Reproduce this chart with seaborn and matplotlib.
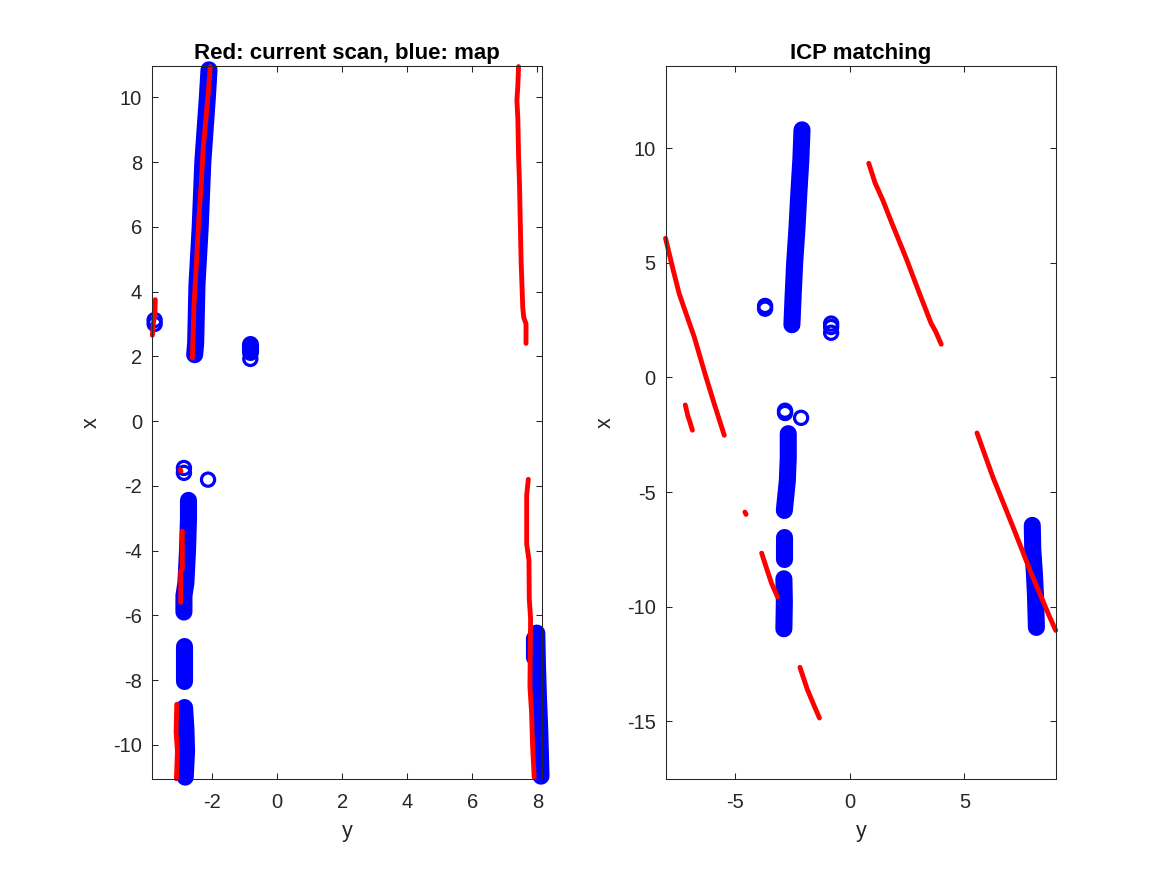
import numpy as np
import pandas as pd
import matplotlib
matplotlib.use('Agg')
import matplotlib.pyplot as plt
import seaborn as sns

# puntos, pares (y, x): horizontal "y", vertical "x"

# panel izquierdo: mapa (azul) y scan actual (rojo)
left_map_lines = [
    [(-2.53, 2.05), (-2.50, 2.4), (-2.46, 4.2), (-2.36, 6.0), (-2.28, 8.0), (-2.14, 10.0), (-2.09, 10.85)],
    [(-0.84, 2.37), (-0.84, 2.13)],
    [(-2.72, -2.45), (-2.72, -3.0), (-2.75, -4.0), (-2.80, -5.0), (-2.86, -5.4), (-2.86, -5.9)],
    [(-2.86, -6.95), (-2.86, -8.03)],
    [(-2.84, -8.85), (-2.80, -9.5), (-2.78, -10.2), (-2.82, -11.0)],
    [(7.98, -6.55), (8.00, -7.5), (8.03, -8.5), (8.07, -9.5), (8.11, -10.97)],
    [(7.88, -6.7), (7.88, -7.3)],
]
left_map_rings = [(-3.76, 3.0), (-3.76, 3.12), (-0.82, 1.92),
                  (-2.86, -1.45), (-2.86, -1.6), (-2.12, -1.81)]
left_scan_lines = [
    [(-2.60, 1.95), (-2.55, 3.6), (-2.48, 4.8), (-2.40, 6.3), (-2.33, 7.3), (-2.27, 8.4),
     (-2.17, 9.5), (-2.10, 10.3), (-2.05, 10.95)],
    [(-3.83, 2.65), (-3.80, 3.0), (-3.75, 3.4), (-3.74, 3.75)],
    [(-2.97, -1.50), (-2.95, -1.56)],
    [(-2.91, -3.4), (-2.91, -4.55), (-2.96, -4.65), (-2.96, -5.6)],
    [(-3.08, -8.75), (-3.10, -9.6), (-3.06, -10.2), (-3.09, -11.05)],
    [(7.42, 10.95), (7.40, 10.4), (7.37, 9.9), (7.40, 9.3), (7.42, 8.2), (7.45, 7.3), (7.47, 6.3),
     (7.50, 4.9), (7.55, 3.5), (7.58, 3.2), (7.65, 3.0), (7.65, 2.4)],
    [(7.72, -1.8), (7.67, -2.3), (7.67, -3.8), (7.74, -4.3), (7.75, -5.5), (7.79, -6.1),
     (7.77, -8.2), (7.82, -9.0), (7.85, -10.0), (7.90, -11.0)],
]

# panel derecho: resultado del ICP
right_map_lines = [
    [(-2.52, 2.3), (-2.47, 3.5), (-2.40, 5.0), (-2.30, 6.5), (-2.22, 8.0), (-2.13, 9.5), (-2.08, 10.8)],
    [(-2.68, -2.45), (-2.68, -3.5), (-2.72, -4.5), (-2.80, -5.3), (-2.85, -5.8)],
    [(-2.85, -6.96), (-2.85, -7.91)],
    [(-2.87, -8.78), (-2.85, -9.8), (-2.87, -10.96)],
    [(7.96, -6.45), (7.98, -7.5), (8.05, -8.5), (8.10, -9.5), (8.14, -10.9)],
]
right_map_rings = [(-3.69, 3.0), (-3.69, 3.12), (-0.81, 2.35), (-0.81, 2.2), (-0.81, 1.95),
                   (-2.82, -1.45), (-2.82, -1.55), (-2.12, -1.76)]
right_scan_lines = [
    [(-8.03, 6.07), (-7.75, 4.9), (-7.44, 3.67), (-7.29, 3.23), (-6.78, 1.77), (-6.27, 0.03),
     (-5.91, -1.14), (-5.47, -2.52)],
    [(-7.17, -1.2), (-7.05, -1.7), (-6.98, -1.9), (-6.86, -2.3)],
    [(-4.57, -5.87), (-4.52, -5.97)],
    [(-3.84, -7.66), (-3.6, -8.4), (-3.4, -9.0), (-3.14, -9.58)],
    [(-2.17, -12.64), (-1.85, -13.6), (-1.6, -14.2), (-1.32, -14.85)],
    [(0.83, 9.34), (1.1, 8.5), (1.44, 7.74), (1.81, 6.8), (2.46, 5.2), (3.04, 3.67), (3.55, 2.36),
     (3.75, 2.0), (3.99, 1.45)],
    [(5.55, -2.42), (6.24, -4.34), (7.12, -6.52), (7.92, -8.56), (8.72, -10.45), (8.98, -11.03)],
]

left_xticks = [-2, 0, 2, 4, 6, 8]
left_yticks = [-10, -8, -6, -4, -2, 0, 2, 4, 6, 8, 10]
right_xticks = [-5, 0, 5]
right_yticks = [-15, -10, -5, 0, 5, 10]

sns.set_theme(style='white')
plt.rcParams['font.family'] = ['Liberation Sans', 'DejaVu Sans']
plt.rcParams['axes.unicode_minus'] = False
# marcas hacia dentro en los cuatro lados, estilo MATLAB
plt.rcParams.update({
    'xtick.bottom': True, 'xtick.top': True, 'ytick.left': True, 'ytick.right': True,
    'xtick.direction': 'in', 'ytick.direction': 'in',
    'xtick.major.size': 4.5, 'ytick.major.size': 4.5,
    'xtick.major.width': 0.75, 'ytick.major.width': 0.75,
})

GRIS = '#262626'


def to_frame(segments):
    rows = [(i, p[0], p[1]) for i, seg in enumerate(segments) for p in seg]
    return pd.DataFrame(rows, columns=['seg', 'y', 'x'])


def draw_panel(ax, map_lines, map_rings, scan_lines, xlim, ylim, xticks, yticks, title):
    # mapa: columnas de circulos -> linea gruesa con extremos redondos
    sns.lineplot(data=to_frame(map_lines), x='y', y='x', units='seg', estimator=None, sort=False,
                 color='blue', lw=12.3, solid_capstyle='round', clip_on=False, legend=False, ax=ax)
    rings = pd.DataFrame(map_rings, columns=['y', 'x'])
    sns.scatterplot(data=rings, x='y', y='x', marker='o', s=90, facecolor='none', edgecolor='blue',
                    linewidth=2.3, clip_on=False, legend=False, ax=ax)
    # scan actual
    sns.lineplot(data=to_frame(scan_lines), x='y', y='x', units='seg', estimator=None, sort=False,
                 color='red', lw=3.5, solid_capstyle='round', clip_on=False, legend=False, ax=ax)

    ax.set_xlim(xlim)
    ax.set_ylim(ylim)
    ax.set_xticks(xticks)
    ax.set_yticks(yticks)
    ax.grid(False)
    ax.tick_params(direction='in', bottom=True, left=True, top=True, right=True,
                   length=4.5, width=0.75, colors=GRIS, labelsize=14.5)
    ax.tick_params(axis='x', pad=10)
    ax.tick_params(axis='y', pad=7)
    for s in ax.spines.values():
        s.set_visible(True)
        s.set_color(GRIS)
        s.set_linewidth(0.75)
    ax.set_title(title, fontsize=16, fontweight='bold', pad=5, color='black')
    ax.set_xlabel('y', fontsize=15.5, color=GRIS, labelpad=7)
    ax.set_ylabel('x', fontsize=15.5, color=GRIS, labelpad=8)


fig = plt.figure(figsize=(11.67, 8.75), dpi=100)
ax1 = fig.add_axes([0.13, 0.11, 0.3347, 0.815])
ax2 = fig.add_axes([0.5703, 0.11, 0.3347, 0.815])

draw_panel(ax1, left_map_lines, left_map_rings, left_scan_lines,
           (-3.85, 8.15), (-11.05, 10.98), left_xticks, left_yticks,
           'Red: current scan, blue: map')
draw_panel(ax2, right_map_lines, right_map_rings, right_scan_lines,
           (-8.03, 9.0), (-17.5, 13.6), right_xticks, right_yticks,
           'ICP matching')

fig.savefig('out.png', dpi=100)
